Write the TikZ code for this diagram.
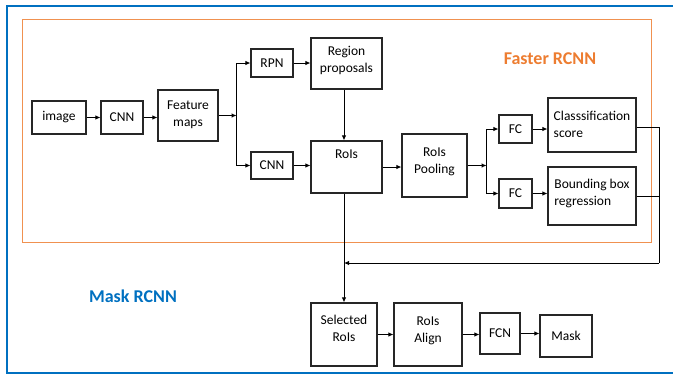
\documentclass[tikz,border=0pt]{standalone}
\usepackage{fontspec}
\setmainfont{Carlito}
\usetikzlibrary{arrows.meta,calc,positioning}
\definecolor{maskblue}{RGB}{0,112,192}
\definecolor{fastorange}{RGB}{237,125,49}

\begin{document}
\begin{tikzpicture}[x=1pt,y=-1pt,
  blk/.style 2 args={draw=black!85,line width=1.1pt,minimum width=#1,minimum height=#2,inner sep=2pt,font=\fontsize{13.5}{17}\selectfont,align=center},
  lift/.style={text depth=4pt,text height=#1},
  conn/.style={-{Latex[length=5pt,width=4.5pt]},line width=0.9pt},
  wire/.style={line width=0.9pt},
  lbl/.style={font=\bfseries\fontsize{18}{20}\selectfont}]

\useasboundingbox (0,0) rectangle (673,376);

% frames
\draw[maskblue,line width=2pt] (680,6) -- (7,6) -- (7,373) -- (680,373);
\draw[fastorange!85,line width=1pt] (22,19) rectangle (651,242);
\node[lbl,text=fastorange] (fasterlbl) at (550,59) {Faster RCNN};
\node[lbl,text=maskblue] (masklbl) at (133,296) {Mask RCNN};

  \node[blk={54}{33}] (image) at (59,117.5) {image};
  \node[blk={42}{33}] (cnnA) at (122,117.5) {CNN};
  \node[blk={60}{51},lift=25.2pt] (feat) at (188,115.5) {Feature\\maps};

  \node[blk={42}{28}] (rpn) at (272,63) {RPN};
  \node[blk={42}{27}] (cnnB) at (272,165.5) {CNN};
  \node[blk={71}{51},lift=22.2pt] (prop) at (346.5,63.5) {Region\\proposals};
  \node[blk={71}{52},text height=15pt,text depth=33pt] (rois) at (346.5,167) {RoIs};
  \node[blk={65}{63},lift=20.2pt] (pool) at (434.5,165.5) {RoIs\\Pooling};

  \node[blk={33}{28}] (fcA) at (515.5,129) {FC};
  \node[blk={33}{29}] (fcB) at (515.5,193.5) {FC};
  \node[blk={88}{54},align=left,lift=29.2pt] (cls) at (592,125) {Classsification\\score};
  \node[blk={88}{58},align=left,lift=23.2pt] (bbr) at (592,196) {Bounding box\\regression};

  \node[blk={66}{63},lift=17.2pt] (sel) at (344,334.5) {Selected\\RoIs};
  \node[blk={68}{63},lift=20.2pt] (ralign) at (428,334.5) {RoIs\\Align};
  \node[blk={40}{41}] (fcn) at (500,333.5) {FCN};
  \node[blk={52}{42}] (mask) at (566,336) {Mask};

  \coordinate (fsplit) at ($(feat.east)+(18,0)$);
  \coordinate (psplit) at ($(pool.east)+(19,0)$);
  \coordinate (fback) at (659,263);

  \draw[conn] (image) -- (cnnA);
  \draw[conn] (cnnA.east) -- (cnnA.east -| feat.west);
  \draw[conn] (feat.east) -- (fsplit);
  \draw[conn] (fsplit) |- (rpn.west);
  \draw[conn] (fsplit) |- (cnnB.west);
  \draw[conn] (rpn) -- (rpn -| prop.west);
  \draw[conn] (cnnB) -- (cnnB -| rois.west);
  \draw[conn] (prop.south -| sel.north) -- (rois.north -| sel.north);
  \draw[conn] (rois) -- (rois -| pool.west);
  \draw[conn] (pool.east) -- (psplit);
  \draw[conn] (psplit) |- (fcA.west);
  \draw[conn] (psplit) |- (fcB.west);
  \draw[conn] (fcA) -- (fcA -| cls.west);
  \draw[conn] (fcB) -- (fcB -| bbr.west);
  % back to the selected rois
  \draw[wire] ([yshift=-2pt]cls.east) -| (fback);
  \draw[wire] (bbr.east) -- (bbr.east -| fback);
  \draw[conn] (fback) -- (fback -| sel.north);
  \draw[conn] (rois.south -| sel.north) -- (sel.north);
  \draw[conn] (sel) -- (sel -| ralign.west);
  \draw[conn] (ralign) -- (ralign -| fcn.west);
  \draw[conn] (fcn) -- (fcn -| mask.west);
\end{tikzpicture}
\end{document}
